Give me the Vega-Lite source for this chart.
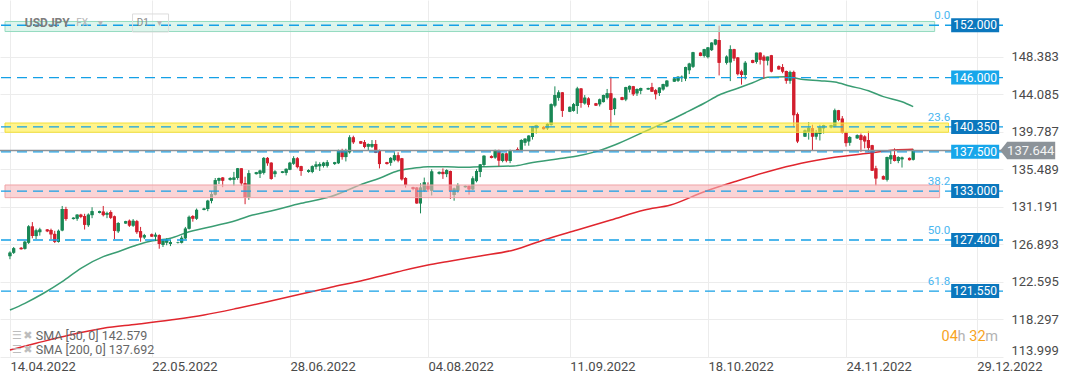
{
"$schema": "https://vega.github.io/schema/vega-lite/v6.json",
"width": 1003, "height": 357,
"autosize": {"type": "none"},
"padding": {"left": 0, "top": 0, "right": 69, "bottom": 25},
"background": "white",
"config": {"view": {"stroke": null}, "font": "Roboto"},
"datasets": {
"candles": [
{"d":"2022-04-14","o":125.55,"h":126.1,"l":125.2,"c":125.95},
{"d":"2022-04-15","o":125.95,"h":126.6,"l":125.8,"c":126.45},
{"d":"2022-04-17","o":126.5,"h":126.6,"l":126.3,"c":126.35},
{"d":"2022-04-18","o":126.4,"h":127.3,"l":126.3,"c":127.2},
{"d":"2022-04-19","o":127.1,"h":129.1,"l":126.95,"c":128.95},
{"d":"2022-04-20","o":128.95,"h":129.45,"l":127.6,"c":127.85},
{"d":"2022-04-21","o":127.85,"h":128.7,"l":127.5,"c":128.5},
{"d":"2022-04-22","o":128.3,"h":128.8,"l":127.9,"c":128.6},
{"d":"2022-04-24","o":128.6,"h":128.65,"l":128.3,"c":128.4},
{"d":"2022-04-25","o":128.55,"h":128.7,"l":127.5,"c":128.05},
{"d":"2022-04-26","o":128.1,"h":128.45,"l":127.05,"c":127.2},
{"d":"2022-04-27","o":127.2,"h":128.6,"l":127.1,"c":128.45},
{"d":"2022-04-28","o":128.5,"h":131.3,"l":128.4,"c":130.95},
{"d":"2022-04-29","o":130.95,"h":131.2,"l":129.6,"c":129.8},
{"d":"2022-05-01","o":129.8,"h":130.0,"l":129.75,"c":129.95},
{"d":"2022-05-02","o":129.85,"h":130.35,"l":129.6,"c":130.3},
{"d":"2022-05-03","o":130.3,"h":130.4,"l":129.9,"c":130.05},
{"d":"2022-05-04","o":130.15,"h":130.4,"l":128.6,"c":129.15},
{"d":"2022-05-05","o":129.1,"h":130.45,"l":128.9,"c":130.3},
{"d":"2022-05-06","o":130.25,"h":131.15,"l":129.9,"c":130.7},
{"d":"2022-05-08","o":130.5,"h":130.75,"l":130.45,"c":130.7},
{"d":"2022-05-09","o":130.65,"h":131.3,"l":130.1,"c":130.25},
{"d":"2022-05-10","o":130.3,"h":130.65,"l":129.9,"c":130.5},
{"d":"2022-05-11","o":130.6,"h":130.8,"l":129.8,"c":129.95},
{"d":"2022-05-12","o":130.1,"h":130.2,"l":127.5,"c":128.45},
{"d":"2022-05-13","o":128.4,"h":129.45,"l":128.2,"c":129.35},
{"d":"2022-05-15","o":129.3,"h":129.6,"l":129.25,"c":129.55},
{"d":"2022-05-16","o":129.6,"h":129.75,"l":128.9,"c":129.05},
{"d":"2022-05-17","o":129.05,"h":129.8,"l":128.9,"c":129.6},
{"d":"2022-05-18","o":129.55,"h":129.7,"l":128.1,"c":128.3},
{"d":"2022-05-19","o":128.4,"h":128.9,"l":127.2,"c":127.7},
{"d":"2022-05-20","o":127.7,"h":128.1,"l":127.5,"c":127.95},
{"d":"2022-05-22","o":128.05,"h":128.15,"l":127.75,"c":127.8},
{"d":"2022-05-23","o":127.8,"h":128.25,"l":127.3,"c":128.0},
{"d":"2022-05-24","o":127.95,"h":128.05,"l":126.4,"c":126.95},
{"d":"2022-05-25","o":126.85,"h":127.5,"l":126.6,"c":127.35},
{"d":"2022-05-26","o":127.1,"h":127.6,"l":126.8,"c":127.4},
{"d":"2022-05-27","o":126.95,"h":127.4,"l":126.7,"c":127.15},
{"d":"2022-05-29","o":127.1,"h":127.2,"l":127.0,"c":127.15},
{"d":"2022-05-30","o":127.1,"h":127.9,"l":127.0,"c":127.65},
{"d":"2022-05-31","o":127.6,"h":128.9,"l":127.5,"c":128.7},
{"d":"2022-06-01","o":128.7,"h":130.2,"l":128.6,"c":130.05},
{"d":"2022-06-02","o":130.15,"h":130.25,"l":129.5,"c":129.85},
{"d":"2022-06-03","o":129.85,"h":131.0,"l":129.7,"c":130.85},
{"d":"2022-06-05","o":130.85,"h":131.1,"l":130.8,"c":131.0},
{"d":"2022-06-06","o":130.95,"h":132.0,"l":130.7,"c":131.9},
{"d":"2022-06-07","o":131.9,"h":133.0,"l":131.6,"c":132.65},
{"d":"2022-06-08","o":132.6,"h":134.5,"l":132.5,"c":134.25},
{"d":"2022-06-09","o":134.2,"h":134.55,"l":133.8,"c":134.5},
{"d":"2022-06-10","o":134.55,"h":134.6,"l":133.45,"c":134.2},
{"d":"2022-06-12","o":134.3,"h":134.6,"l":134.2,"c":134.5},
{"d":"2022-06-13","o":134.3,"h":135.2,"l":133.6,"c":134.55},
{"d":"2022-06-14","o":134.5,"h":135.65,"l":134.3,"c":135.6},
{"d":"2022-06-15","o":135.6,"h":135.6,"l":133.6,"c":133.9},
{"d":"2022-06-16","o":133.9,"h":134.65,"l":131.5,"c":132.25},
{"d":"2022-06-17","o":132.3,"h":135.4,"l":132.0,"c":135.05},
{"d":"2022-06-19","o":134.95,"h":135.2,"l":134.9,"c":135.15},
{"d":"2022-06-20","o":135.0,"h":135.45,"l":134.5,"c":135.35},
{"d":"2022-06-21","o":135.1,"h":136.9,"l":134.9,"c":136.8},
{"d":"2022-06-22","o":136.8,"h":136.9,"l":135.9,"c":136.2},
{"d":"2022-06-23","o":136.25,"h":136.3,"l":134.3,"c":134.4},
{"d":"2022-06-24","o":134.95,"h":135.4,"l":134.6,"c":135.25},
{"d":"2022-06-26","o":135.1,"h":135.3,"l":135.05,"c":135.25},
{"d":"2022-06-27","o":135.1,"h":135.6,"l":134.8,"c":135.55},
{"d":"2022-06-28","o":135.45,"h":136.35,"l":135.4,"c":136.25},
{"d":"2022-06-29","o":136.15,"h":137.0,"l":136.0,"c":136.75},
{"d":"2022-06-30","o":136.75,"h":136.9,"l":135.6,"c":135.75},
{"d":"2022-07-01","o":135.85,"h":135.9,"l":134.75,"c":135.3},
{"d":"2022-07-03","o":135.2,"h":135.5,"l":135.1,"c":135.4},
{"d":"2022-07-04","o":135.2,"h":135.95,"l":135.05,"c":135.85},
{"d":"2022-07-05","o":135.8,"h":136.4,"l":135.5,"c":136.05},
{"d":"2022-07-06","o":135.85,"h":136.3,"l":135.3,"c":136.1},
{"d":"2022-07-07","o":135.9,"h":136.35,"l":135.7,"c":136.25},
{"d":"2022-07-08","o":135.9,"h":136.55,"l":135.7,"c":136.3},
{"d":"2022-07-10","o":136.1,"h":136.35,"l":136.0,"c":136.3},
{"d":"2022-07-11","o":136.2,"h":137.75,"l":136.1,"c":137.6},
{"d":"2022-07-12","o":137.6,"h":137.85,"l":136.6,"c":136.9},
{"d":"2022-07-13","o":136.9,"h":137.85,"l":136.4,"c":137.65},
{"d":"2022-07-14","o":137.45,"h":139.4,"l":137.3,"c":139.15},
{"d":"2022-07-15","o":139.15,"h":139.35,"l":138.4,"c":138.6},
{"d":"2022-07-17","o":138.7,"h":138.75,"l":138.4,"c":138.45},
{"d":"2022-07-18","o":138.6,"h":138.85,"l":137.9,"c":138.05},
{"d":"2022-07-19","o":138.1,"h":138.45,"l":137.7,"c":138.4},
{"d":"2022-07-20","o":138.1,"h":138.85,"l":137.95,"c":138.4},
{"d":"2022-07-21","o":138.4,"h":138.85,"l":137.35,"c":137.4},
{"d":"2022-07-22","o":137.7,"h":137.75,"l":135.6,"c":136.1},
{"d":"2022-07-24","o":136.3,"h":136.35,"l":136.05,"c":136.1},
{"d":"2022-07-25","o":136.25,"h":136.9,"l":135.9,"c":136.8},
{"d":"2022-07-26","o":136.55,"h":137.45,"l":136.4,"c":137.1},
{"d":"2022-07-27","o":137.1,"h":137.45,"l":136.3,"c":136.5},
{"d":"2022-07-28","o":136.75,"h":136.8,"l":134.2,"c":134.35},
{"d":"2022-07-29","o":134.5,"h":134.6,"l":133.4,"c":133.7},
{"d":"2022-07-31","o":133.45,"h":133.5,"l":133.1,"c":133.25},
{"d":"2022-08-01","o":133.4,"h":133.45,"l":131.55,"c":131.6},
{"d":"2022-08-02","o":131.6,"h":133.9,"l":130.45,"c":133.4},
{"d":"2022-08-03","o":133.05,"h":134.55,"l":132.9,"c":134.0},
{"d":"2022-08-04","o":133.6,"h":134.0,"l":132.9,"c":133.2},
{"d":"2022-08-05","o":133.05,"h":135.5,"l":132.5,"c":135.25},
{"d":"2022-08-07","o":135.0,"h":135.25,"l":134.9,"c":135.2},
{"d":"2022-08-08","o":135.2,"h":135.6,"l":134.4,"c":134.95},
{"d":"2022-08-09","o":134.95,"h":135.5,"l":134.6,"c":135.4},
{"d":"2022-08-10","o":135.3,"h":135.35,"l":132.1,"c":133.05},
{"d":"2022-08-11","o":132.55,"h":133.4,"l":131.9,"c":133.3},
{"d":"2022-08-12","o":133.05,"h":133.9,"l":132.8,"c":133.7},
{"d":"2022-08-14","o":133.45,"h":133.65,"l":133.4,"c":133.6},
{"d":"2022-08-15","o":133.6,"h":133.65,"l":132.6,"c":133.2},
{"d":"2022-08-16","o":133.2,"h":134.7,"l":133.1,"c":134.45},
{"d":"2022-08-17","o":134.15,"h":135.5,"l":134.0,"c":135.3},
{"d":"2022-08-18","o":135.2,"h":136.1,"l":134.6,"c":136.05},
{"d":"2022-08-19","o":136.0,"h":137.1,"l":135.8,"c":137.05},
{"d":"2022-08-21","o":137.0,"h":137.1,"l":136.75,"c":136.8},
{"d":"2022-08-22","o":136.85,"h":137.75,"l":136.7,"c":137.7},
{"d":"2022-08-23","o":137.7,"h":137.75,"l":135.85,"c":136.5},
{"d":"2022-08-24","o":136.45,"h":137.35,"l":136.3,"c":137.3},
{"d":"2022-08-25","o":137.3,"h":137.4,"l":136.3,"c":136.5},
{"d":"2022-08-26","o":136.45,"h":137.75,"l":136.2,"c":137.6},
{"d":"2022-08-28","o":137.8,"h":138.0,"l":137.6,"c":137.65},
{"d":"2022-08-29","o":137.7,"h":138.95,"l":137.6,"c":138.85},
{"d":"2022-08-30","o":138.55,"h":139.05,"l":138.2,"c":139.0},
{"d":"2022-08-31","o":138.7,"h":139.4,"l":138.2,"c":139.35},
{"d":"2022-09-01","o":139.2,"h":140.45,"l":138.9,"c":140.4},
{"d":"2022-09-02","o":140.2,"h":140.6,"l":139.6,"c":140.55},
{"d":"2022-09-04","o":140.35,"h":140.45,"l":140.05,"c":140.1},
{"d":"2022-09-05","o":140.2,"h":140.8,"l":140.0,"c":140.7},
{"d":"2022-09-06","o":140.6,"h":143.05,"l":140.5,"c":142.95},
{"d":"2022-09-07","o":142.8,"h":145.0,"l":142.6,"c":144.0},
{"d":"2022-09-08","o":143.7,"h":144.55,"l":143.35,"c":144.3},
{"d":"2022-09-09","o":144.3,"h":144.35,"l":141.5,"c":142.2},
{"d":"2022-09-11","o":142.1,"h":142.7,"l":142.05,"c":142.65},
{"d":"2022-09-12","o":142.2,"h":143.1,"l":142.1,"c":142.95},
{"d":"2022-09-13","o":142.75,"h":144.95,"l":141.85,"c":144.75},
{"d":"2022-09-14","o":144.75,"h":144.8,"l":142.55,"c":143.1},
{"d":"2022-09-15","o":143.05,"h":144.0,"l":142.9,"c":143.7},
{"d":"2022-09-16","o":143.6,"h":143.75,"l":142.6,"c":142.9},
{"d":"2022-09-18","o":143.05,"h":143.1,"l":142.75,"c":142.8},
{"d":"2022-09-19","o":142.95,"h":143.6,"l":142.7,"c":143.5},
{"d":"2022-09-20","o":143.2,"h":144.05,"l":143.15,"c":144.0},
{"d":"2022-09-21","o":143.7,"h":144.7,"l":143.5,"c":144.2},
{"d":"2022-09-22","o":144.2,"h":146.1,"l":140.4,"c":142.3},
{"d":"2022-09-23","o":142.4,"h":143.7,"l":141.7,"c":143.6},
{"d":"2022-09-25","o":143.75,"h":143.8,"l":143.4,"c":143.45},
{"d":"2022-09-26","o":143.5,"h":144.95,"l":143.3,"c":144.9},
{"d":"2022-09-27","o":144.65,"h":145.1,"l":144.3,"c":145.05},
{"d":"2022-09-28","o":145.0,"h":145.05,"l":143.9,"c":144.1},
{"d":"2022-09-29","o":144.2,"h":144.75,"l":143.9,"c":144.7},
{"d":"2022-09-30","o":144.5,"h":144.85,"l":144.1,"c":144.8},
{"d":"2022-10-02","o":144.65,"h":144.85,"l":144.6,"c":144.8},
{"d":"2022-10-03","o":144.9,"h":145.4,"l":144.35,"c":144.4},
{"d":"2022-10-04","o":144.55,"h":144.7,"l":143.5,"c":144.1},
{"d":"2022-10-05","o":144.25,"h":144.9,"l":143.9,"c":144.85},
{"d":"2022-10-06","o":144.65,"h":145.3,"l":144.5,"c":145.25},
{"d":"2022-10-07","o":145.0,"h":145.7,"l":144.9,"c":145.65},
{"d":"2022-10-09","o":145.55,"h":145.95,"l":145.5,"c":145.9},
{"d":"2022-10-10","o":145.65,"h":146.15,"l":145.5,"c":146.1},
{"d":"2022-10-11","o":145.95,"h":146.25,"l":145.5,"c":146.1},
{"d":"2022-10-12","o":145.9,"h":147.25,"l":145.6,"c":147.2},
{"d":"2022-10-13","o":146.85,"h":147.7,"l":146.4,"c":147.6},
{"d":"2022-10-14","o":147.25,"h":148.95,"l":147.1,"c":148.9},
{"d":"2022-10-16","o":148.85,"h":148.9,"l":148.45,"c":148.5},
{"d":"2022-10-17","o":148.5,"h":149.3,"l":148.3,"c":149.25},
{"d":"2022-10-18","o":148.35,"h":149.5,"l":148.2,"c":149.45},
{"d":"2022-10-19","o":149.15,"h":150.05,"l":149.05,"c":150.0},
{"d":"2022-10-20","o":149.8,"h":150.4,"l":149.7,"c":150.35},
{"d":"2022-10-21","o":150.3,"h":151.95,"l":146.25,"c":147.7},
{"d":"2022-10-23","o":147.7,"h":148.55,"l":147.5,"c":148.4},
{"d":"2022-10-24","o":147.75,"h":149.7,"l":145.6,"c":149.25},
{"d":"2022-10-25","o":149.25,"h":149.3,"l":147.9,"c":148.2},
{"d":"2022-10-26","o":148.3,"h":148.35,"l":146.25,"c":146.4},
{"d":"2022-10-27","o":146.7,"h":146.9,"l":145.2,"c":146.3},
{"d":"2022-10-28","o":146.3,"h":147.9,"l":145.8,"c":147.7},
{"d":"2022-10-30","o":148.0,"h":148.05,"l":147.65,"c":147.7},
{"d":"2022-10-31","o":147.8,"h":148.85,"l":147.6,"c":148.85},
{"d":"2022-11-01","o":148.85,"h":148.9,"l":147.5,"c":148.05},
{"d":"2022-11-02","o":148.4,"h":148.6,"l":145.9,"c":147.95},
{"d":"2022-11-03","o":147.95,"h":148.4,"l":147.4,"c":148.4},
{"d":"2022-11-04","o":148.55,"h":148.6,"l":146.6,"c":146.7},
{"d":"2022-11-06","o":147.3,"h":147.4,"l":146.9,"c":146.95},
{"d":"2022-11-07","o":147.2,"h":147.55,"l":146.5,"c":146.7},
{"d":"2022-11-08","o":146.75,"h":146.8,"l":145.3,"c":145.65},
{"d":"2022-11-09","o":145.65,"h":146.8,"l":145.3,"c":146.65},
{"d":"2022-11-10","o":146.65,"h":146.8,"l":140.3,"c":141.7},
{"d":"2022-11-11","o":141.8,"h":142.0,"l":138.5,"c":138.7},
{"d":"2022-11-13","o":139.25,"h":140.05,"l":139.2,"c":139.95},
{"d":"2022-11-14","o":139.8,"h":140.9,"l":138.9,"c":140.25},
{"d":"2022-11-15","o":140.2,"h":140.6,"l":137.7,"c":139.25},
{"d":"2022-11-16","o":139.25,"h":140.0,"l":138.9,"c":139.7},
{"d":"2022-11-17","o":139.55,"h":140.6,"l":138.8,"c":140.35},
{"d":"2022-11-18","o":140.2,"h":140.6,"l":139.6,"c":140.55},
{"d":"2022-11-20","o":140.3,"h":140.6,"l":140.2,"c":140.55},
{"d":"2022-11-21","o":140.4,"h":142.45,"l":140.3,"c":142.25},
{"d":"2022-11-22","o":142.25,"h":142.3,"l":141.0,"c":141.15},
{"d":"2022-11-23","o":141.3,"h":141.6,"l":139.6,"c":139.7},
{"d":"2022-11-24","o":139.7,"h":139.8,"l":138.1,"c":138.5},
{"d":"2022-11-25","o":138.55,"h":139.3,"l":138.2,"c":139.2},
{"d":"2022-11-27","o":139.05,"h":139.5,"l":139.0,"c":139.4},
{"d":"2022-11-28","o":139.4,"h":139.6,"l":137.5,"c":138.85},
{"d":"2022-11-29","o":139.25,"h":139.4,"l":137.9,"c":138.7},
{"d":"2022-11-30","o":138.85,"h":139.9,"l":137.5,"c":137.95},
{"d":"2022-12-01","o":138.25,"h":138.3,"l":135.3,"c":135.35},
{"d":"2022-12-02","o":135.6,"h":135.9,"l":133.65,"c":134.45},
{"d":"2022-12-04","o":134.7,"h":134.8,"l":134.3,"c":134.35},
{"d":"2022-12-05","o":134.3,"h":136.95,"l":134.1,"c":136.9},
{"d":"2022-12-06","o":136.65,"h":137.7,"l":136.1,"c":137.1},
{"d":"2022-12-07","o":137.1,"h":137.9,"l":136.4,"c":136.45},
{"d":"2022-12-08","o":136.45,"h":137.0,"l":136.2,"c":136.9},
{"d":"2022-12-09","o":136.65,"h":136.95,"l":135.7,"c":136.85},
{"d":"2022-12-11","o":136.8,"h":136.85,"l":136.5,"c":136.55},
{"d":"2022-12-12","o":136.6,"h":137.8,"l":136.5,"c":137.644}
],
"sma": [
{"d":"2022-04-14","s":"50","v":119.38},{"d":"2022-04-18","s":"50","v":120.15},{"d":"2022-04-23","s":"50","v":121.30},{"d":"2022-04-28","s":"50","v":122.63},{"d":"2022-05-03","s":"50","v":124.16},{"d":"2022-05-09","s":"50","v":125.49},{"d":"2022-05-13","s":"50","v":126.06},{"d":"2022-05-18","s":"50","v":126.83},{"d":"2022-05-21","s":"50","v":127.21},{"d":"2022-05-27","s":"50","v":127.60},{"d":"2022-06-01","s":"50","v":128.35},{"d":"2022-06-05","s":"50","v":128.74},{"d":"2022-06-14","s":"50","v":129.69},{"d":"2022-06-18","s":"50","v":130.26},{"d":"2022-06-22","s":"50","v":130.64},{"d":"2022-07-01","s":"50","v":131.60},{"d":"2022-07-09","s":"50","v":132.38},{"d":"2022-07-18","s":"50","v":133.90},{"d":"2022-07-22","s":"50","v":134.47},{"d":"2022-07-27","s":"50","v":135.34},{"d":"2022-07-31","s":"50","v":135.61},{"d":"2022-08-04","s":"50","v":135.80},{"d":"2022-08-09","s":"50","v":135.80},{"d":"2022-08-13","s":"50","v":135.73},{"d":"2022-08-18","s":"50","v":135.80},{"d":"2022-08-27","s":"50","v":135.88},{"d":"2022-08-31","s":"50","v":136.19},{"d":"2022-09-09","s":"50","v":136.76},{"d":"2022-09-13","s":"50","v":137.02},{"d":"2022-09-18","s":"50","v":137.52},{"d":"2022-09-23","s":"50","v":138.28},{"d":"2022-10-01","s":"50","v":139.81},{"d":"2022-10-04","s":"50","v":140.38},{"d":"2022-10-08","s":"50","v":141.15},{"d":"2022-10-12","s":"50","v":141.98},{"d":"2022-10-17","s":"50","v":143.06},{"d":"2022-10-21","s":"50","v":144.01},{"d":"2022-10-26","s":"50","v":144.78},{"d":"2022-10-30","s":"50","v":145.42},{"d":"2022-11-03","s":"50","v":146.04},{"d":"2022-11-08","s":"50","v":146.11},{"d":"2022-11-12","s":"50","v":145.81},{"d":"2022-11-17","s":"50","v":145.65},{"d":"2022-11-21","s":"50","v":145.50},{"d":"2022-11-25","s":"50","v":145.04},{"d":"2022-11-30","s":"50","v":144.50},{"d":"2022-12-04","s":"50","v":143.82},{"d":"2022-12-09","s":"50","v":143.24},{"d":"2022-12-12","s":"50","v":142.67},
{"d":"2022-04-14","s":"200","v":114.80},{"d":"2022-04-21","s":"200","v":115.57},{"d":"2022-04-30","s":"200","v":116.52},{"d":"2022-05-09","s":"200","v":117.29},{"d":"2022-05-18","s":"200","v":117.75},{"d":"2022-05-27","s":"200","v":118.24},{"d":"2022-06-05","s":"200","v":118.81},{"d":"2022-06-14","s":"200","v":119.58},{"d":"2022-06-22","s":"200","v":120.33},{"d":"2022-07-01","s":"200","v":121.22},{"d":"2022-07-09","s":"200","v":121.98},{"d":"2022-07-18","s":"200","v":122.82},{"d":"2022-07-27","s":"200","v":123.77},{"d":"2022-08-04","s":"200","v":124.54},{"d":"2022-08-09","s":"200","v":124.92},{"d":"2022-08-18","s":"200","v":125.57},{"d":"2022-08-27","s":"200","v":126.26},{"d":"2022-09-04","s":"200","v":127.40},{"d":"2022-09-13","s":"200","v":128.55},{"d":"2022-09-22","s":"200","v":129.69},{"d":"2022-10-01","s":"200","v":130.84},{"d":"2022-10-08","s":"200","v":131.41},{"d":"2022-10-17","s":"200","v":132.93},{"d":"2022-10-26","s":"200","v":134.19},{"d":"2022-11-03","s":"200","v":135.22},{"d":"2022-11-12","s":"200","v":136.19},{"d":"2022-11-21","s":"200","v":136.87},{"d":"2022-11-30","s":"200","v":137.33},{"d":"2022-12-07","s":"200","v":137.71},{"d":"2022-12-12","s":"200","v":137.79}
],
"levels": [
{"p":152,"lab":"152.000","fib":"0.0"},
{"p":146,"lab":"146.000","fib":""},
{"p":140.35,"lab":"140.350","fib":"23.6"},
{"p":137.5,"lab":"137.500","fib":""},
{"p":133,"lab":"133.000","fib":"38.2"},
{"p":127.4,"lab":"127.400","fib":"50.0"},
{"p":121.55,"lab":"121.550","fib":"61.8"}
],
"zones": [
{"zone":"top","lo":151.28,"hi":152.43,"x1":"2022-04-12T16:10:00Z","x2":"2022-12-17T18:00:00Z"},
{"zone":"mid","lo":139.74,"hi":140.80,"x1":"2022-04-12T16:10:00Z","x2":"2022-12-21T11:00:00Z"},
{"zone":"low","lo":132.25,"hi":133.70,"x1":"2022-04-12T16:10:00Z","x2":"2022-12-19T01:40:00Z"}
],
"last": [{"p":137.644,"lab":"137.644"}],
"notes": [
{"g":"title","txt":"USDJPY","t":"2022-04-17T23:30:00Z","p":152.29},
{"g":"small","txt":"FX","t":"2022-05-01T18:30:00Z","p":152.25},
{"g":"small","txt":"▾","t":"2022-05-07T14:00:00Z","p":152.3},
{"g":"dark","txt":"D1","t":"2022-05-17T23:00:00Z","p":152.25},
{"g":"small","txt":"▾","t":"2022-05-23T12:00:00Z","p":152.3},
{"g":"legend","txt":"SMA [50, 0] 142.579","t":"2022-04-20T21:36:00Z","p":116.44},
{"g":"legend","txt":"SMA [200, 0] 137.692","t":"2022-04-20T21:36:00Z","p":114.84},
{"g":"icon","txt":"☰","t":"2022-04-15T20:38:00Z","p":116.44},
{"g":"icon","txt":"✖","t":"2022-04-18T18:30:00Z","p":116.44},
{"g":"icon","txt":"☰","t":"2022-04-15T20:38:00Z","p":114.84},
{"g":"icon","txt":"✖","t":"2022-04-18T18:30:00Z","p":114.84},
{"g":"timer","txt":"04","t":"2022-12-19T14:24:00Z","p":116.29},
{"g":"timer","txt":"h","t":"2022-12-23T20:24:00Z","p":116.29},
{"g":"timer","txt":"32","t":"2022-12-27T00:45:00Z","p":116.29},
{"g":"timer","txt":"m","t":"2022-12-31T06:30:00Z","p":116.29}
],
"boxes": [{"t":"2022-05-21T16:00:00Z","p":152.26}]
},
"layer": [
{"data":{"name":"candles"},"mark":{"type":"bar","size":3},
 "encoding":{"x":{"field":"d","type":"temporal","title":null,
   "scale":{"type":"utc","domain":[{"year":2022,"month":4,"date":12,"hours":16,"minutes":10,"utc":true},{"year":2023,"month":1,"date":3,"hours":17,"minutes":17,"utc":true}]},
   "axis":{"title":null,"values":[{"year":2022,"month":4,"date":14,"utc":true},{"year":2022,"month":5,"date":22,"utc":true},{"year":2022,"month":6,"date":28,"utc":true},{"year":2022,"month":8,"date":4,"utc":true},{"year":2022,"month":9,"date":11,"utc":true},{"year":2022,"month":10,"date":18,"utc":true},{"year":2022,"month":11,"date":24,"utc":true},{"year":2022,"month":12,"date":29,"utc":true}],
    "format":"%d.%m.%Y","labelAlign":"left","labelBaseline":"top","labelPadding":3,"labelFont":"Roboto","labelFontSize":13,"labelColor":"#4a4a4a","ticks":false,"domain":false,"grid":true,"gridColor":"#ececec","labelFlush":false,"labelOverlap":false,"labelBound":false}},
  "y":{"field":"o","type":"quantitative","title":null,"scale":{"domain":[113.999,154.89],"nice":false,"zero":false},
   "axis":{"title":null,"orient":"right","values":[113.999,118.297,122.595,126.893,131.191,135.489,139.787,144.085,148.383],"format":".3f","labelPadding":8,"labelFont":"Roboto","labelFontSize":13,"labelColor":"#4a4a4a","ticks":false,"domain":false,"grid":true,"gridColor":"#ececec","labelFlush":true,"labelOverlap":false}},
  "y2":{"field":"c"},
  "color":{"condition":{"test":"datum.c >= datum.o","value":"#198755"},"value":"#d21e2d"}}},
{"data":{"name":"sma"},"mark":{"type":"line","strokeWidth":1.5,"interpolate":"monotone"},
 "encoding":{"x":{"field":"d","type":"temporal","title":null,"scale":{"type":"utc"}},
  "y":{"field":"v","type":"quantitative","title":null},
  "color":{"field":"s","type":"nominal","scale":{"domain":["50","200"],"range":["#3a9d73","#e0262e"]},"legend":null}}},
{"data":{"name":"candles"},"mark":{"type":"rule","strokeWidth":1},
 "encoding":{"x":{"field":"d","type":"temporal","title":null,"scale":{"type":"utc"}},
  "y":{"field":"l","type":"quantitative","title":null},"y2":{"field":"h"},
  "color":{"condition":{"test":"datum.c >= datum.o","value":"#198755"},"value":"#d21e2d"}}},
{"data":{"name":"candles"},"mark":{"type":"bar","size":3},
 "encoding":{"x":{"field":"d","type":"temporal","title":null,"scale":{"type":"utc"}},
  "y":{"field":"o","type":"quantitative","title":null},"y2":{"field":"c"},
  "color":{"condition":{"test":"datum.c >= datum.o","value":"#198755"},"value":"#d21e2d"}}},
{"data":{"name":"zones"},"mark":{"type":"rect","fillOpacity":0.6,"strokeWidth":1},
 "encoding":{"x":{"field":"x1","type":"temporal","title":null,"scale":{"type":"utc"}},"x2":{"field":"x2"},
  "y":{"field":"lo","type":"quantitative","title":null},"y2":{"field":"hi"},
  "fill":{"field":"zone","type":"nominal","scale":{"domain":["top","mid","low"],"range":["#c6eedf","#ffec40","#f7b7ba"]},"legend":null},
  "stroke":{"field":"zone","type":"nominal","scale":{"domain":["top","mid","low"],"range":["#95dbc0","#f3df3a","#f0a3a6"]},"legend":null}}},
{"data":{"name":"levels"},"mark":{"type":"rule","strokeWidth":1.3,"strokeDash":[10,6],"color":"#14a0e6"},
 "encoding":{"y":{"field":"p","type":"quantitative","title":null}}},
{"data":{"name":"last"},"mark":{"type":"rule","strokeWidth":1.5,"color":"#8c9196"},
 "encoding":{"y":{"field":"p","type":"quantitative","title":null}}},
{"data":{"name":"levels"},"transform":[{"filter":"datum.fib != ''"}],
 "mark":{"type":"text","align":"right","baseline":"bottom","dy":-4,"fontSize":11.5,"color":"#4ab6f0","font":"Roboto"},
 "encoding":{"x":{"datum":{"year":2022,"month":12,"date":21,"hours":22,"utc":true},"type":"temporal","title":null,"scale":{"type":"utc"}},
  "y":{"field":"p","type":"quantitative","title":null},"text":{"field":"fib"}}},
{"data":{"name":"levels"},"mark":{"type":"point","shape":"M-1.714,-0.5L1.714,-0.5L1.714,0.5L-1.714,0.5Z","size":784,"filled":true,"opacity":1,"strokeWidth":0},
 "encoding":{"x":{"datum":{"year":2022,"month":12,"date":28,"hours":14,"minutes":24,"utc":true},"type":"temporal","title":null,"scale":{"type":"utc"}},
  "y":{"field":"p","type":"quantitative","title":null},
  "color":{"condition":{"test":"datum.p == 146 || datum.p == 137.5","value":"#17a6ea"},"value":"#0b77bd"}}},
{"data":{"name":"levels"},"mark":{"type":"text","align":"center","baseline":"middle","fontSize":12,"color":"white","font":"Roboto"},
 "encoding":{"x":{"datum":{"year":2022,"month":12,"date":28,"hours":14,"minutes":24,"utc":true},"type":"temporal","title":null,"scale":{"type":"utc"}},
  "y":{"field":"p","type":"quantitative","title":null},"text":{"field":"lab"}}},
{"data":{"name":"last"},"mark":{"type":"point","shape":"M-1.571,0L-1.171,-0.5L1.571,-0.5L1.571,0.5L-1.171,0.5Z","size":1225,"filled":true,"opacity":1,"strokeWidth":0,"color":"#8c9399"},
 "encoding":{"x":{"datum":{"year":2023,"month":1,"date":11,"hours":16,"minutes":19,"utc":true},"type":"temporal","title":null,"scale":{"type":"utc"}},
  "y":{"field":"p","type":"quantitative","title":null}}},
{"data":{"name":"last"},"mark":{"type":"text","align":"center","baseline":"middle","dx":3,"fontSize":13,"color":"#f4f4f4","font":"Roboto"},
 "encoding":{"x":{"datum":{"year":2023,"month":1,"date":11,"hours":16,"minutes":19,"utc":true},"type":"temporal","title":null,"scale":{"type":"utc"}},
  "y":{"field":"p","type":"quantitative","title":null},"text":{"field":"lab"}}},
{"data":{"name":"boxes"},"mark":{"type":"point","shape":"M-1,-0.5L1,-0.5L1,0.5L-1,0.5Z","size":1296,"filled":false,"strokeWidth":1,"color":"#dcdcdc","opacity":1},
 "encoding":{"x":{"field":"t","type":"temporal","title":null,"scale":{"type":"utc"}},"y":{"field":"p","type":"quantitative","title":null}}},
{"data":{"name":"notes"},"transform":[{"filter":"datum.g == 'title'"}],
 "mark":{"type":"text","align":"left","baseline":"middle","fontSize":12,"fontWeight":"bold","color":"#7d7d7d","font":"Roboto"},
 "encoding":{"x":{"field":"t","type":"temporal","title":null,"scale":{"type":"utc"}},"y":{"field":"p","type":"quantitative","title":null},"text":{"field":"txt"}}},
{"data":{"name":"notes"},"transform":[{"filter":"datum.g == 'small' || datum.g == 'dark'"}],
 "mark":{"type":"text","align":"left","baseline":"middle","fontSize":10,"font":"Roboto"},
 "encoding":{"x":{"field":"t","type":"temporal","title":null,"scale":{"type":"utc"}},"y":{"field":"p","type":"quantitative","title":null},"text":{"field":"txt"},
  "color":{"condition":{"test":"datum.g == 'dark'","value":"#8a8a8a"},"value":"#b5b5b5"}}},
{"data":{"name":"notes"},"transform":[{"filter":"datum.g == 'legend'"}],
 "mark":{"type":"text","align":"left","baseline":"middle","fontSize":12.5,"color":"#666","font":"Roboto"},
 "encoding":{"x":{"field":"t","type":"temporal","title":null,"scale":{"type":"utc"}},"y":{"field":"p","type":"quantitative","title":null},"text":{"field":"txt"}}},
{"data":{"name":"notes"},"transform":[{"filter":"datum.g == 'icon'"}],
 "mark":{"type":"text","align":"center","baseline":"middle","fontSize":11,"color":"#bdbdbd","font":"DejaVu Sans"},
 "encoding":{"x":{"field":"t","type":"temporal","title":null,"scale":{"type":"utc"}},"y":{"field":"p","type":"quantitative","title":null},"text":{"field":"txt"}}},
{"data":{"name":"notes"},"transform":[{"filter":"datum.g == 'timer'"}],
 "mark":{"type":"text","align":"left","baseline":"middle","fontSize":14.5,"font":"Roboto"},
 "encoding":{"x":{"field":"t","type":"temporal","title":null,"scale":{"type":"utc"}},"y":{"field":"p","type":"quantitative","title":null},"text":{"field":"txt"},
  "color":{"condition":{"test":"datum.txt == 'h' || datum.txt == 'm'","value":"#b3b3b3"},"value":"#f7a31c"}}}
]
}
